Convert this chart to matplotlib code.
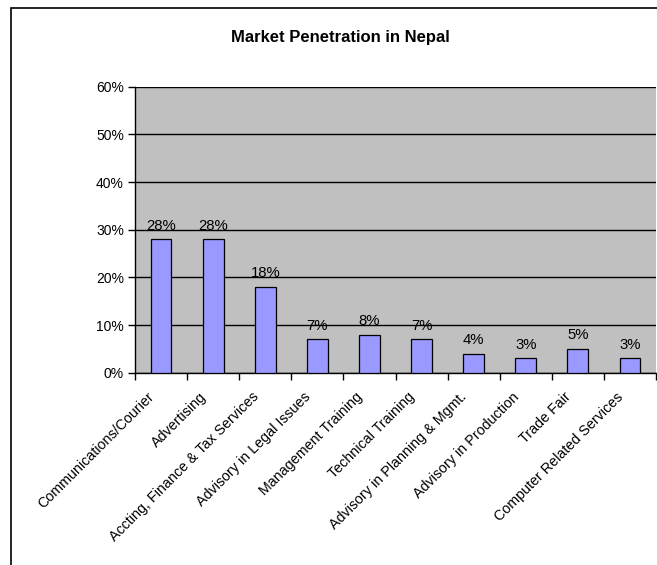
import matplotlib
matplotlib.use("Agg")
import matplotlib.pyplot as plt
from matplotlib.patches import Rectangle
from matplotlib.transforms import ScaledTranslation
import numpy as np

categories = [
    "Communications/Courier",
    "Advertising",
    "Accting, Finance & Tax Services",
    "Advisory in Legal Issues",
    "Management Training",
    "Technical Training",
    "Advisory in Planning & Mgmt.",
    "Advisory in Production",
    "Trade Fair",
    "Computer Related Services",
]
penetration = [28, 28, 18, 7, 8, 7, 4, 3, 5, 3]
y_ticks = [0, 10, 20, 30, 40, 50, 60]
title = "Market Penetration in Nepal"

plt.rcParams["font.family"] = ["Liberation Sans", "DejaVu Sans"]

W, H = 657, 565
fig = plt.figure(figsize=(W / 100, H / 100), dpi=100)

# chart-area frame (left and top edges visible)
fig.patches.append(Rectangle((11 / W, -0.1), 1.2, 1 - 8 / H + 0.1,
                             transform=fig.transFigure, fill=False,
                             edgecolor="black", linewidth=1.2))

left, right, top, bottom = 135, 656, 86.7, 372.7
ax = fig.add_axes([left / W, 1 - bottom / H, (right - left) / W, (bottom - top) / H])
ax.set_facecolor("#C0C0C0")

x = np.arange(len(categories))
ax.bar(x, penetration, width=0.4, color="#9999FF", edgecolor="black",
       linewidth=0.9, zorder=3)
for xi, v in zip(x, penetration):
    ax.text(xi, v + 2.0, f"{v}%", ha="center", va="baseline", fontsize=10.7, zorder=4)

ax.set_ylim(0, 60)
ax.set_xlim(-0.5, len(categories) - 0.5)
ax.set_yticks(y_ticks)
ax.set_yticklabels([f"{t}%" for t in y_ticks], fontsize=10)
ax.yaxis.grid(True, color="black", linewidth=1.0, zorder=1)
ax.set_axisbelow(True)

# tick marks at category boundaries, labels at category centres
ax.set_xticks(np.arange(len(categories) + 1) - 0.5)
ax.set_xticklabels([])
ax.tick_params(axis="x", which="major", length=5, width=1, direction="out")
ax.tick_params(axis="y", length=5, width=1, direction="out", pad=3)

label_tr = ax.get_xaxis_transform() + ScaledTranslation(-9 / 100, -22 / 100, fig.dpi_scale_trans)
for xi, name in zip(x, categories):
    ax.text(xi, 0, name, transform=label_tr, rotation=45, ha="right", va="center",
            rotation_mode="anchor", fontsize=10.3, clip_on=False)

for side in ("top", "right"):
    ax.spines[side].set_visible(False)
for side in ("left", "bottom"):
    ax.spines[side].set_linewidth(1.0)

fig.text(340.5 / W, 1 - 37.7 / H, title, ha="center", va="center",
         fontsize=12, fontweight="bold")

fig.savefig("out.png", dpi=100)
